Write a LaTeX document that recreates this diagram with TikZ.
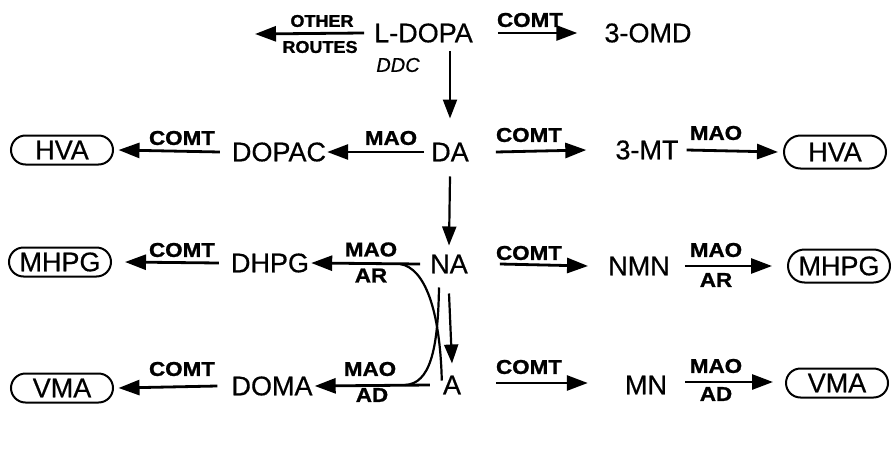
\documentclass[tikz,border=0pt]{standalone}
\usepackage{fontspec}
\setmainfont[FakeBold=0.4]{Liberation Sans}
\newfontfamily\metfont[FakeBold=0.5]{Liberation Sans}
\newfontfamily\enzfont[FakeStretch=1.12,FakeBold=1.2]{Liberation Sans}
\newfontfamily\othfont[FakeStretch=1.06,FakeBold=1.2]{Liberation Sans}
\usetikzlibrary{arrows.meta}
\begin{document}
\begin{tikzpicture}[x=1pt,y=-1pt,
  met/.style={font=\metfont\fontsize{27}{27}\selectfont, inner sep=0pt},
  enz/.style={font=\enzfont\bfseries\fontsize{20}{20}\selectfont, inner sep=0pt},
  oth/.style={font=\othfont\bfseries\fontsize{17}{17}\selectfont, inner sep=0pt},
  ddcst/.style={font=\metfont\itshape\fontsize{20}{20}\selectfont, inner sep=0pt},
  endp/.style={met, draw, line width=2pt, rounded corners=14.5pt, minimum width=102pt, minimum height=29pt},
  rx/.style={line width=2.8pt, -{Triangle[length=21pt,width=15pt]}},
  vx/.style={line width=2.2pt, -{Triangle[length=19pt,width=14pt]}},
  crv/.style={line width=2.2pt}]
\useasboundingbox (0,0) rectangle (891,455);

% metabolites
\node[met] (LDOPA) at (423.5,33) {L-DOPA};
\node[met] (OMD) at (648,33) {3-OMD};
\node[met] (DA) at (450,152) {DA};
\node[met] (DOPAC) at (279,152) {DOPAC};
\node[met] (MT) at (647,150) {3-MT};
\node[met] (NA) at (449,264) {NA};
\node[met] (DHPG) at (270,263) {DHPG};
\node[met] (NMN) at (639,266) {NMN};
\node[met] (A) at (452,385) {A};
\node[met] (DOMA) at (272,386) {DOMA};
\node[met] (MN) at (646,385) {MN};

% end products
\node[endp] (HVAl) at (62,150) {HVA};
\node[endp] (MHPGl) at (60,262) {MHPG};
\node[endp] (VMAl) at (62,388) {VMA};
\node[endp, minimum height=33pt, rounded corners=16.5pt] (HVAr) at (835,152) {HVA};
\node[endp, minimum height=33pt, rounded corners=16.5pt] (MHPGr) at (839,266) {MHPG};
\node[endp] (VMAr) at (837,383) {VMA};

% enzyme labels
\node[oth] (lother) at (322,21) {OTHER};
\node[oth] (lroutes) at (320,47) {ROUTES};
\node[enz] (lc0) at (530,20) {COMT};
\node[ddcst] (lddc) at (398,65) {DDC};
\node[enz] (lc2l) at (182,138) {COMT};
\node[enz] (lm2l) at (391,138) {MAO};
\node[enz] (lc2r) at (529,135) {COMT};
\node[enz] (lm2r) at (716,133) {MAO};
\node[enz] (lc3l) at (182,250) {COMT};
\node[enz] (lm3l) at (371,249.5) {MAO};
\node[enz] (la3l) at (371,275.5) {AR};
\node[enz] (lc3r) at (529,253) {COMT};
\node[enz] (lm3r) at (716,250) {MAO};
\node[enz] (la3r) at (716,280) {AR};
\node[enz] (lc4l) at (182,369) {COMT};
\node[enz] (lm4l) at (370,369) {MAO};
\node[enz] (la4l) at (372,395) {AD};
\node[enz] (lc4r) at (529,367) {COMT};
\node[enz] (lm4r) at (716,366) {MAO};
\node[enz] (la4r) at (716,394) {AD};

\coordinate (othend) at (255,34);

% arrows
\draw[rx] ([xshift=-10pt]LDOPA.west) -- (othend);
\draw[rx] ([xshift=25pt]LDOPA.east) -- ([xshift=-27pt]OMD.west);
\draw[vx] ([yshift=-8pt]LDOPA.south -| DA.north) -- ([yshift=24pt]DA.north);

\draw[rx] ([xshift=-7pt]DA.west) -- ([xshift=1pt]DOPAC.east);
\draw[rx] ([xshift=-12pt]DOPAC.west) -- ([xshift=4.5pt]HVAl.east);
\draw[rx] ([xshift=27pt]DA.east) -- ([xshift=-29pt]MT.west);
\draw[rx] ([xshift=8pt]MT.east) -- ([xshift=-5pt]HVAr.west);
\draw[vx] ([yshift=-15pt]DA.south) -- ([yshift=9pt]NA.north);

\draw[rx] ([xshift=-10pt]NA.west) -- ([xshift=2pt]DHPG.east);
\draw[rx] ([xshift=-12pt]DHPG.west) -- ([xshift=13pt]MHPGl.east);
\draw[rx] ([xshift=32pt]NA.east) -- ([xshift=-20pt]NMN.west);
\draw[rx] ([xshift=15pt]NMN.east) -- ([xshift=-15pt]MHPGr.west);
\draw[vx] ([yshift=-20pt]NA.south) -- ([yshift=12pt]A.north);

\draw[rx] ([xshift=-13pt]A.west) -- ([xshift=2pt]DOMA.east);
\draw[rx] ([xshift=-14pt]DOMA.west) -- ([xshift=4.5pt]VMAl.east);
\draw[rx] ([xshift=35pt,yshift=2pt]A.east) -- ([xshift=-37pt,yshift=2pt]MN.west);
\draw[rx] ([xshift=18pt,yshift=3pt]MN.east) -- ([xshift=-12pt,yshift=1pt]VMAr.west);

% crossing curves
\draw[crv] ([xshift=-30pt]NA.west) .. controls (425,268) and (440,310) .. ([xshift=-1pt,yshift=-5pt]A.north west);
\draw[crv] ([xshift=-38pt]A.west) .. controls (430,384) and (438,350) .. ([xshift=-10pt,yshift=-14pt]NA.south);
\end{tikzpicture}
\end{document}
